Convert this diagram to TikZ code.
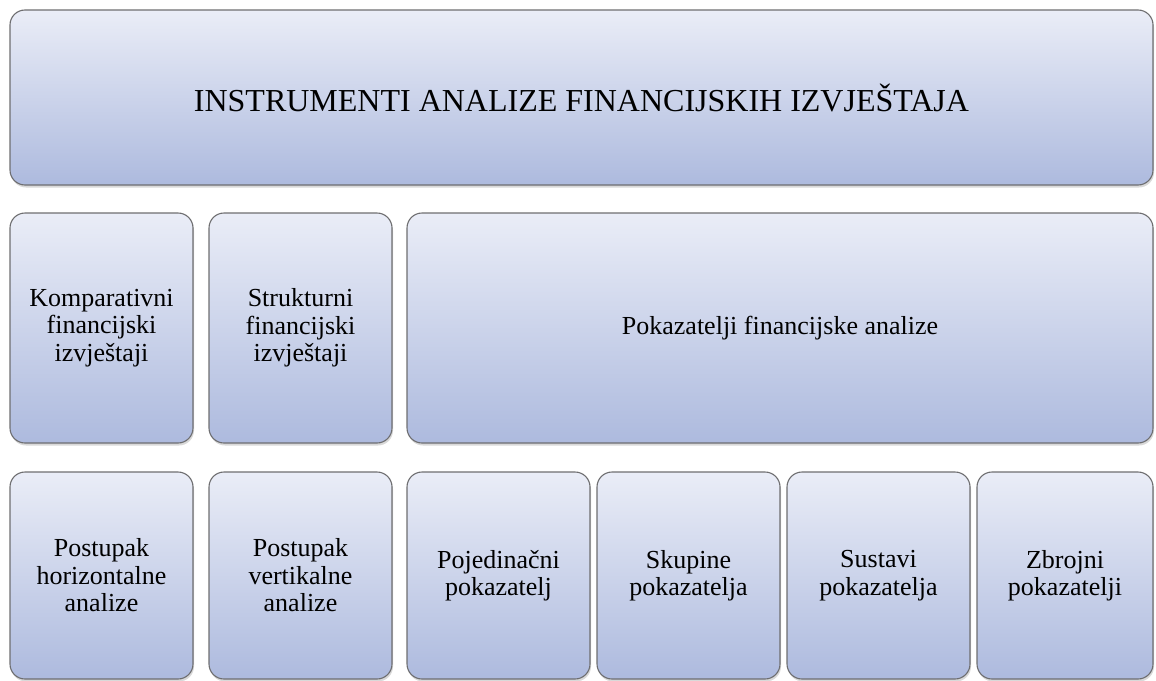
\documentclass[tikz,border=0pt]{standalone}
\usepackage{fontspec}
\setmainfont{Liberation Serif}
\usepackage{tikz}
\usetikzlibrary{shadows,positioning}
\definecolor{boxtop}{RGB}{234,237,247}
\definecolor{boxbottom}{RGB}{173,186,222}
\definecolor{boxline}{RGB}{110,110,112}
\tikzset{instr/.style={draw=boxline,line width=1.1pt,rounded corners=15pt,
    top color=boxtop,bottom color=boxbottom,align=center,inner sep=0pt,
    drop shadow={opacity=0.3,shadow xshift=1pt,shadow yshift=-2.5pt},
    font=\fontsize{26}{27.5}\selectfont},
  sized/.style 2 args={minimum width=#1,minimum height=#2}}

\begin{document}
\begin{tikzpicture}[x=1pt,y=-1pt]
  \useasboundingbox (0,0) rectangle (1156,680);

  % top
  \node [instr,sized={1143pt}{175pt},font=\fontsize{32}{36}\selectfont] (instrumenti)
    at (581.5,97.5) {INSTRUMENTI ANALIZE FINANCIJSKIH IZVJEŠTAJA};

  % middle row
  \node [instr,sized={183pt}{230pt}] (komparativni) at (101.5,328)
    {Komparativni\\financijski\\izvještaji};
  \node [instr,sized={183pt}{230pt}] (strukturni) at (300.5,328)
    {Strukturni\\financijski\\izvještaji};
  \node [instr,sized={746pt}{230pt}] (pokazatelji) at (780,328)
    {Pokazatelji financijske analize};

  % bottom row
  \node [instr,sized={183pt}{207pt}] (horizontalna) at (101.5,575.5)
    {Postupak\\horizontalne\\analize};
  \node [instr,sized={183pt}{207pt}] (vertikalna) at (300.5,575.5)
    {Postupak\\vertikalne\\analize};
  \node [instr,sized={183pt}{207pt}] (pojedinacni) at (498.5,575.5)
    {Pojedinačni\\pokazatelj};
  \node [instr,sized={183pt}{207pt}] (skupine) at (688.5,575.5)
    {Skupine\\pokazatelja};
  \node [instr,sized={183pt}{207pt}] (sustavi) at (878.5,575.5)
    {Sustavi\\pokazatelja};
  \node [instr,sized={176pt}{207pt}] (zbrojni) at (1065,575.5)
    {Zbrojni\\pokazatelji};

\end{tikzpicture}
\end{document}
